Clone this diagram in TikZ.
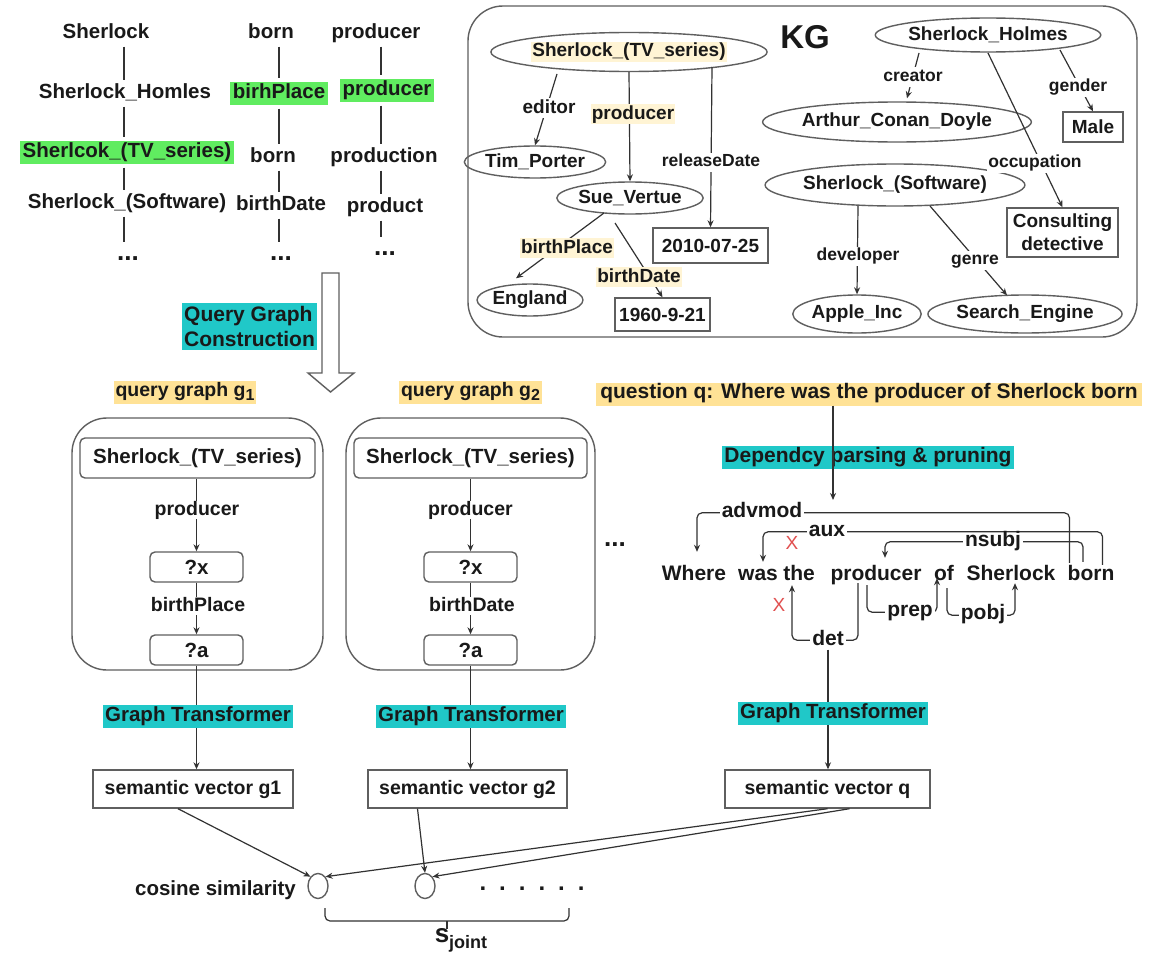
\documentclass[tikz,border=0pt]{standalone}
\usepackage{fontspec}
\setmainfont{Liberation Sans}
\usetikzlibrary{arrows.meta,calc,shapes.geometric}
\definecolor{hlgreen}{RGB}{96,236,96}
\definecolor{hlteal}{RGB}{32,200,200}
\definecolor{hlyellow}{RGB}{255,226,150}
\definecolor{hlcream}{RGB}{255,244,212}
\definecolor{txt}{RGB}{25,25,25}
\definecolor{ln}{RGB}{50,50,50}
\definecolor{bx}{RGB}{95,95,95}
\definecolor{redx}{RGB}{225,80,80}
\newcommand\myfs[1]{\fontsize{#1}{#1}\selectfont}
\begin{document}
\begin{tikzpicture}[x=1pt,y=-1pt,
 every node/.style={text=txt},
 tl/.style={font=\bfseries\myfs{20.5}, inner sep=0pt, text height=15pt, text depth=4pt},
 tld/.style={font=\bfseries\myfs{26}, inner sep=0pt, text height=15pt, text depth=4pt},
 tlg/.style={tl, fill=hlgreen, inner xsep=3pt, inner ysep=2pt},
 kge/.style={ellipse, draw=bx, line width=1.4pt, inner sep=0pt, font=\bfseries\myfs{19}},
 kgr/.style={rectangle, draw=bx, line width=1.4pt, inner sep=0pt, font=\bfseries\myfs{19}},
 el/.style={fill=white, inner xsep=1pt, inner ysep=1pt, font=\bfseries\myfs{19}, text height=14pt, text depth=4pt},
 els/.style={el, font=\bfseries\myfs{17.5}, text height=13pt, text depth=4pt},
 elc/.style={el, fill=hlcream},
 ar/.style={draw=ln, line width=1.2pt, -{Stealth[length=7pt,width=6pt]}},
 pl/.style={draw=ln, line width=1.2pt},
 hteal/.style={fill=hlteal, inner xsep=2pt, inner ysep=2pt, font=\bfseries\myfs{20.5}, text height=15pt, text depth=4pt},
 hyel/.style={fill=hlyellow, inner xsep=2pt, inner ysep=2pt, font=\bfseries\myfs{19.5}, text height=14pt, text depth=5pt},
 qin/.style={draw=bx, line width=1.4pt, rounded corners=5pt, inner sep=0pt, font=\bfseries\myfs{20.5}},
 qout/.style={draw=bx, line width=1.4pt, rounded corners=35pt, inner sep=0pt, minimum height=252pt},
 ql/.style={fill=white, inner xsep=1pt, inner ysep=0pt, font=\bfseries\myfs{19.5}, text height=14pt, text depth=4pt},
 sv/.style={draw=bx, line width=1.4pt, inner sep=0pt, minimum height=38pt, font=\bfseries\myfs{19.5}},
 dw/.style={font=\bfseries\myfs{21}, inner sep=0pt, text height=15pt, text depth=4pt, anchor=base},
 dl/.style={fill=white, inner xsep=2pt, inner ysep=0pt, font=\bfseries\myfs{21}, text height=13pt, text depth=4pt},
 darc/.style={draw=ln, line width=1.2pt, rounded corners=5pt, -{Stealth[length=7pt,width=6pt]}},
 rx/.style={text=redx, font=\myfs{19}, inner sep=0pt},
 cs/.style={ellipse, draw=bx, line width=1.4pt, minimum width=20pt, minimum height=25pt, inner sep=0pt},
]
\fill[white] (0,0) rectangle (1167,958);
\useasboundingbox (0,0) rectangle (1167,958);

% ---------- top-left candidate lists ----------
\node[tl] (a1) at (106,33) {Sherlock};
\node[tl] (a2) at (125,93) {Sherlock\_Homles};
\node[tlg] (a3) at (127,152) {Sherlcok\_(TV\_series)};
\node[tl] (a4) at (127,203) {Sherlock\_(Software)};
\node[tld] (a5) at (128,255) {...};
\node[tl] (b1) at (271,33) {born};
\node[tlg] (b2) at (279,93) {birhPlace};
\node[tl] (b3) at (273,157) {born};
\node[tl] (b4) at (281,205) {birthDate};
\node[tld] (b5) at (281,255) {...};
\node[tl] (c1) at (376,33) {producer};
\node[tlg] (c2) at (387,90) {producer};
\node[tl] (c3) at (384,157) {production};
\node[tl] (c4) at (385,207) {product};
\node[tld] (c5) at (385,250) {...};
\coordinate (xa) at (124,0);
\coordinate (xb) at (279,0);
\coordinate (xc) at (381,0);
\foreach \u/\v in {a1/a2,a2/a3,a3/a4,a4/a5}
  \draw[pl, shorten <=4pt, shorten >=3pt] (\u.south -| xa) -- (\v.north -| xa);
\foreach \u/\v in {b1/b2,b2/b3,b3/b4,b4/b5}
  \draw[pl, shorten <=4pt, shorten >=3pt] (\u.south -| xb) -- (\v.north -| xb);
\foreach \u/\v in {c1/c2,c2/c3,c3/c4,c4/c5}
  \draw[pl, shorten <=4pt, shorten >=3pt] (\u.south -| xc) -- (\v.north -| xc);

% ---------- KG ----------
\node[draw=bx, line width=1.4pt, rounded corners=35pt, minimum width=669pt, minimum height=331pt, inner sep=0pt] (kg) at (802.5,171.5) {};
\node[font=\bfseries\myfs{33}, inner sep=0pt] (kgt) at (805,37) {KG};

\node[kge, fill=white, minimum width=218pt, minimum height=39pt] (tv) at (629,52) {{\setlength{\fboxsep}{1pt}\colorbox{hlcream}{Sherlock\_(TV\_series)}}};
\node[kge, minimum width=180pt, minimum height=34pt] (holmes) at (988,35) {Sherlock\_Holmes};
\node[kge, minimum width=116pt, minimum height=32pt] (tim) at (535,162) {Tim\_Porter};
\node[kge, minimum width=130pt, minimum height=32pt] (sue) at (630,198) {Sue\_Vertue};
\node[kge, minimum width=105pt, minimum height=32pt] (eng) at (530,300) {England};
\node[kgr, minimum width=115pt, minimum height=35pt] (d2010) at (710.5,245.5) {2010-07-25};
\node[kgr, minimum width=95pt, minimum height=33pt] (d1960) at (662.5,314.5) {1960-9-21};
\node[kge, minimum width=202pt, minimum height=40pt] (arthur) at (897,122) {Arthur\_Conan\_Doyle};
\node[kgr, minimum width=60pt, minimum height=30pt] (male) at (1093,127) {Male};
\node[kge, minimum width=204pt, minimum height=42pt] (sw) at (895,185) {Sherlock\_(Software)};
\node[kgr, minimum width=111pt, minimum height=49pt, align=center, font=\bfseries\fontsize{19}{23}\selectfont] (cons) at (1062.5,232.5) {Consulting\\detective};
\node[kge, minimum width=115pt, minimum height=38pt] (apple) at (857,314) {Apple\_Inc};
\node[kge, minimum width=160pt, minimum height=38pt] (search) at (1025,314) {Search\_Engine};

\draw[ar] ($(tv.center)+(-72,22)$) -- (tim.north);
\draw[ar] (tv.south) -- (sue.north);
\draw[ar] ($(tv.center)+(83,15)$) -- (d2010.north);
\draw[ar] ($(sue.center)+(-26,15)$) -- ($(eng.north)+(-14,-5)$);
\draw[ar] ($(sue.center)+(-15,25)$) -- (d1960.north);
\draw[ar] ($(holmes.center)+(-69,18)$) -- ($(arthur.north)+(10,-3)$);
\draw[ar] ($(holmes.center)+(72,15)$) -- (male.north);
\draw[ar] ($(holmes.center)+(0,18)$) -- (cons.north);
\draw[ar] ($(sw.center)+(-37,21)$) -- (apple.north);
\draw[ar] ($(sw.center)+(35,21)$) -- ($(search.north)+(-18,1)$);

\node[el] (le) at (549,108) {editor};
\node[elc] (lp) at (633,114) {producer};
\node[els] (lr) at (711,162) {releaseDate};
\node[elc] (lbp) at (567,248) {birthPlace};
\node[elc] (lbd) at (639,277) {birthDate};
\node[els] (lc) at (913,77) {creator};
\node[els] (lg) at (1078,87) {gender};
\node[els] (lo) at (1035,163) {occupation};
\node[els] (ld) at (858,256) {developer};
\node[els] (lgn) at (975,260) {genre};

% ---------- hollow arrow + construction ----------
\draw[draw=bx, line width=1.4pt, fill=white] (322,273) -- (339,273) -- (339,373) -- (354,373) -- (330.5,392) -- (308,373) -- (322,373) -- cycle;
\node[fill=hlteal, inner xsep=2pt, inner ysep=3pt, align=left, font=\bfseries\fontsize{21}{25}\selectfont] (qgc) at (249.5,326.5) {Query Graph\\Construction};

% ---------- query graphs ----------
\node[hyel] (t1) at (185,392) {query graph g\raisebox{-4pt}{\myfs{16}1}};
\node[hyel] (t2) at (470.5,392) {query graph g\raisebox{-4pt}{\myfs{16}2}};

\node[qout, minimum width=251pt] (qg1) at (197.5,544) {};
\node[qin, minimum width=235pt, minimum height=40pt] (tv1) at (197.5,458) {Sherlock\_(TV\_series)};
\node[qin, minimum width=93pt, minimum height=30pt] (x1) at (196.5,567) {?x};
\node[qin, minimum width=93pt, minimum height=30pt] (q1) at (196.5,650) {?a};
\draw[ar] (tv1.south -| x1) -- (x1.north);
\draw[ar] (x1.south) -- (q1.north);
\node[ql] at (197,510) {producer};
\node[ql] at (198,606) {birthPlace};

\node[qout, minimum width=249pt] (qg2) at (470.5,544) {};
\node[qin, minimum width=233pt, minimum height=40pt] (tv2) at (470.5,458) {Sherlock\_(TV\_series)};
\node[qin, minimum width=93pt, minimum height=30pt] (x2) at (470.5,567) {?x};
\node[qin, minimum width=93pt, minimum height=30pt] (q2) at (470.5,650) {?a};
\draw[ar] (tv2.south -| x2) -- (x2.north);
\draw[ar] (x2.south) -- (q2.north);
\node[ql] at (470.5,510) {producer};
\node[ql] at (472,606) {birthDate};

\node[tld] (dots1) at (615,541) {...};

% ---------- question + dependency ----------
\node[hyel, font=\bfseries\myfs{21}, inner xsep=4pt] (question) at (869,394) {question q: Where was the producer of Sherlock born};
\node[hteal, font=\bfseries\myfs{21}] (dep) at (868,457) {Dependcy parsing \& pruning};
\coordinate (qtip) at (833,500);
\draw[ar] (question.south -| qtip) -- (qtip);

\node[dw] (where) at (694,580) {Where};
\node[dw] (was) at (758,580) {was};
\node[dw] (the) at (799,580) {the};
\node[dw] (prod) at (876,580) {producer};
\node[dw] (of) at (944,580) {of};
\node[dw] (sher) at (1011,580) {Sherlock};
\node[dw] (born) at (1091,580) {born};

\draw[darc] ($(born.north west)+(2,-2)$) -- ++(0,-50) -| ($(where.north)+(3,-13)$);
\draw[darc] ($(born.north east)+(-12,0)$) -- ++(0,-33) -| ($(was.north)+(5,-3)$);
\draw[darc] ($(born.north)+(-8,-3)$) -- ++(0,-20) -| ($(prod.north)+(9,-7)$);
\draw[darc] ($(prod.south)+(-18,-1)$) -- ++(0,57) -| ($(the.south)+(-7,1)$);
\draw[darc] ($(prod.south)+(-9,1)$) -- ++(0,27) -| ($(of.south)+(-7,-6)$);
\draw[darc] ($(of.south)+(3,4)$) -- ++(0,27) -| ($(sher.south)+(4,-1)$);

\node[dl] (ladv) at (762,513) {advmod};
\node[dl] (laux) at (827,532) {aux};
\node[dl] (lns) at (993,542) {nsubj};
\node[dl] (ldet) at (828,641) {det};
\node[dl] (lprep) at (910,612) {prep};
\node[dl] (lpobj) at (983,615) {pobj};
\node[rx] (x3) at (792,543) {X};
\node[rx] (x4) at (779,605) {X};

% ---------- transformers ----------
\node[sv, minimum width=200pt] (sv1) at (193,789) {semantic vector g1};
\node[sv, minimum width=199pt] (sv2) at (467.5,789) {semantic vector g2};
\node[sv, minimum width=205pt] (svq) at (827.5,789) {semantic vector q};
\draw[ar] (q1.south) -- (q1.south |- sv1.north);
\draw[ar] (q2.south) -- (q2.south |- sv2.north);
\draw[ar] (ldet.south) -- (ldet.south |- svq.north);
\node[hteal] (gt1) at (198,716) {Graph Transformer};
\node[hteal] (gt2) at (471,716) {Graph Transformer};
\node[hteal] (gt3) at (833,713) {Graph Transformer};

% ---------- similarity ----------
\node[cs] (cs1) at (318,886) {};
\node[cs] (cs2) at (425,886) {};
\node[font=\bfseries\myfs{20.5}, inner sep=0pt, anchor=east] (cosl) at (296,890) {cosine similarity};
\node[font=\bfseries\myfs{24}, inner sep=0pt] (dots2) at (532,889) {.\hspace{13pt}.\hspace{13pt}.\hspace{13pt}.\hspace{13pt}.\hspace{13pt}.};
\draw[ar] ($(sv1.south)+(-15,0)$) -- (cs1.north west);
\draw[ar] ($(sv2.south)+(-50,0)$) -- (cs2.north);
\draw[ar] (svq.south) -- (cs1.north east);
\draw[ar] ($(svq.south)+(22,0)$) -- (cs2.north east);

\coordinate (brl) at (325,908);
\coordinate (brr) at (569,908);
\draw[pl, rounded corners=5pt] (brl) -- (325,921) -- (569,921) -- (brr);
\draw[pl] (447,921) -- (447,929);
\node[inner sep=0pt, font=\bfseries] (sj) at (461,940) {{\myfs{26}s}\raisebox{-6pt}{\myfs{18}joint}};
\end{tikzpicture}
\end{document}
